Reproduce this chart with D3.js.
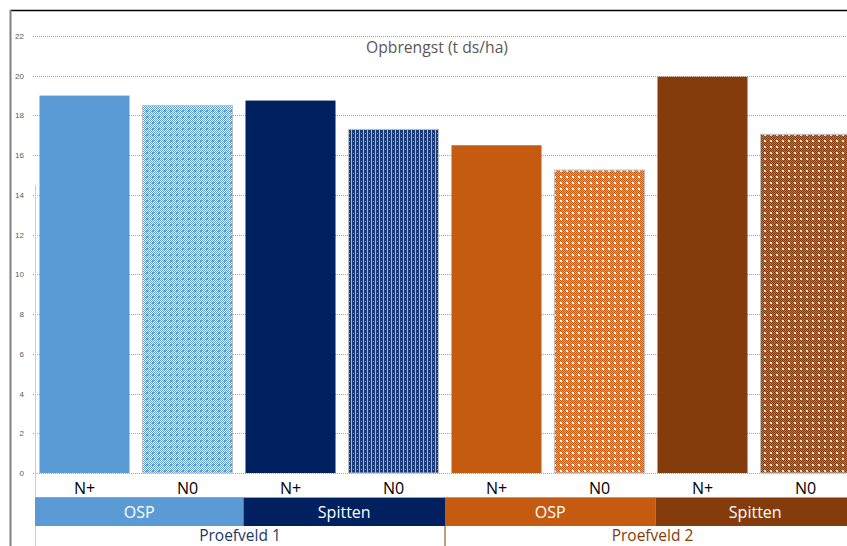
<!DOCTYPE html>
<html>
<head>
<meta charset="utf-8">
<script src="https://cdn.jsdelivr.net/npm/d3@7"></script>
<style>
  body { margin: 0; background: #fff; overflow: hidden; }
  svg { display: block; }
</style>
</head>
<body>
<div id="chart"></div>
<script>
// chart data
const barIds = ["p1-osp-n+", "p1-osp-n0", "p1-sp-n+", "p1-sp-n0", "p2-osp-n+", "p2-osp-n0", "p2-sp-n+", "p2-sp-n0"];
const nLabels = ["N+", "N0", "N+", "N0", "N+", "N0", "N+", "N0"];
const treatments = ["OSP", "OSP", "Spitten", "Spitten", "OSP", "OSP", "Spitten", "Spitten"];
const fields = ["Proefveld 1", "Proefveld 1", "Proefveld 1", "Proefveld 1", "Proefveld 2", "Proefveld 2", "Proefveld 2", "Proefveld 2"];
const yields = [19.0, 18.5, 18.75, 17.3, 16.5, 15.25, 19.95, 17.05];
const yTicks = [0, 2, 4, 6, 8, 10, 12, 14, 16, 18, 20, 22];
const chartTitle = "Opbrengst (t ds/ha)";

const W = 847, H = 546;
const solid = ["#5B9BD5", "#002060", "#C55A11", "#843C0C"];
const fieldColor = { "Proefveld 1": "#1F3864", "Proefveld 2": "#843C0C" };

const svg = d3.select("#chart").append("svg")
  .attr("width", W).attr("height", H);

// patterns for the N0 bars
const defs = svg.append("defs");
function checkPattern(id, light, dark, dot) {
  const p = defs.append("pattern").attr("id", id)
    .attr("patternUnits", "userSpaceOnUse").attr("width", 6).attr("height", 6);
  p.append("rect").attr("width", 6).attr("height", 6).attr("fill", light);
  for (let i = 0; i < 6; i++) {
    for (let j = 0; j < 6; j++) {
      if ((i + j) % 2 === 0) p.append("rect").attr("x", i).attr("y", j).attr("width", 1).attr("height", 1).attr("fill", dark);
    }
  }
  p.append("rect").attr("x", 2).attr("y", 2).attr("width", 2).attr("height", 2).attr("fill", dot);
}
checkPattern("pat-blue", "#FFFFFF", "#5B9BD5", "#5B9BD5");
checkPattern("pat-orange", "#E8A070", "#C55A11", "#FFFFFF");
checkPattern("pat-brown", "#B07850", "#843C0C", "#F0E0D0");
// navy: vertical stripes
const pn = defs.append("pattern").attr("id", "pat-navy")
  .attr("patternUnits", "userSpaceOnUse").attr("width", 4).attr("height", 4);
pn.append("rect").attr("width", 4).attr("height", 4).attr("fill", "#1A3A7A");
pn.append("rect").attr("x", 3).attr("width", 1).attr("height", 4).attr("fill", "#A8B8D8");
pn.append("rect").attr("x", 1).attr("y", 1).attr("width", 1).attr("height", 1).attr("fill", "#8098C8");

const patFill = ["url(#pat-blue)", "url(#pat-navy)", "url(#pat-orange)", "url(#pat-brown)"];

const x = d3.scaleBand()
  .domain(barIds)
  .range([33, 857])
  .paddingInner(0.126)
  .paddingOuter(0.063);

const y = d3.scaleLinear()
  .domain([0, 22])
  .range([473, 36]);

const gap = x.step() - x.bandwidth();

// frame lines
svg.append("line").attr("x1", 10).attr("x2", W).attr("y1", 10.5).attr("y2", 10.5)
  .attr("stroke", "#000").attr("stroke-width", 1.5);
svg.append("line").attr("x1", 10.5).attr("x2", 10.5).attr("y1", 10).attr("y2", H)
  .attr("stroke", "#808080").attr("stroke-width", 2);

// gridlines
svg.append("g").selectAll("line")
  .data(yTicks)
  .join("line")
  .attr("x1", 33).attr("x2", W)
  .attr("y1", d => Math.round(y(d)) + 0.5).attr("y2", d => Math.round(y(d)) + 0.5)
  .attr("stroke", "#A6A6A6")
  .attr("stroke-dasharray", "1,1");

// y tick labels
svg.append("g").selectAll("text")
  .data(yTicks)
  .join("text")
  .attr("x", 24).attr("y", d => y(d) + 3)
  .attr("text-anchor", "end")
  .attr("font-family", "Liberation Sans, Arial, sans-serif")
  .attr("font-size", 8)
  .attr("fill", "#595959")
  .text(d => d);

// bars
const bars = barIds.map((id, i) => ({ id, value: yields[i], i }));
svg.append("g").selectAll("rect")
  .data(bars)
  .join("rect")
  .attr("x", d => x(d.id))
  .attr("y", d => y(d.value))
  .attr("width", x.bandwidth())
  .attr("height", d => y(0) - y(d.value))
  .attr("fill", d => d.i % 2 === 0 ? solid[Math.floor(d.i / 2)] : patFill[Math.floor(d.i / 2)])
  .attr("stroke", d => d.i % 2 === 0 ? "none" : "#BFBFBF")
  .attr("stroke-width", 1);

// title
svg.append("text")
  .attr("x", 437).attr("y", 53)
  .attr("text-anchor", "middle")
  .attr("font-family", "Open Sans, sans-serif")
  .attr("font-size", 15.7)
  .attr("fill", "#595959")
  .text(chartTitle);

// category table under the chart
const font = "Open Sans, sans-serif";
svg.append("line").attr("x1", 35.5).attr("x2", 35.5).attr("y1", 185).attr("y2", H)
  .attr("stroke", "#C8CED6").attr("stroke-width", 1);
svg.append("line").attr("x1", 35).attr("x2", W).attr("y1", 497.5).attr("y2", 497.5)
  .attr("stroke", "#A0A0A0");

svg.append("g").selectAll("text")
  .data(barIds)
  .join("text")
  .attr("x", d => x(d) + x.bandwidth() / 2)
  .attr("y", 494)
  .attr("text-anchor", "middle")
  .attr("font-family", font)
  .attr("font-size", 16)
  .attr("fill", "#000")
  .text((d, i) => nLabels[i]);

// group spans (the field boundary sits mid-gap, the others just left of the bar)
function edge(i) {
  if (i === 0) return 35;
  if (i >= barIds.length) return W;
  return i === 4 ? x(barIds[i]) - gap / 2 : x(barIds[i]) - 2;
}
function spans(keys) {
  const out = [];
  keys.forEach((k, i) => {
    const key = k + "|" + Math.floor(i / 2);
    const last = out[out.length - 1];
    if (last && last.key === key) last.end = i;
    else out.push({ key, label: k, start: i, end: i });
  });
  return out.map(s => ({ label: s.label, idx: s.start, x0: edge(s.start), x1: edge(s.end + 1) }));
}

const treatSpans = spans(treatments);
svg.append("g").selectAll("rect")
  .data(treatSpans)
  .join("rect")
  .attr("x", d => d.x0).attr("y", 498)
  .attr("width", d => d.x1 - d.x0).attr("height", 28)
  .attr("fill", (d, i) => solid[i]);
svg.append("g").selectAll("text")
  .data(treatSpans)
  .join("text")
  .attr("x", d => (d.x0 + d.x1) / 2 + (d.idx >= 6 ? 4 : 0))
  .attr("y", 518)
  .attr("text-anchor", "middle")
  .attr("font-family", font)
  .attr("font-size", 16)
  .attr("fill", "#fff")
  .text(d => d.label);

const fieldSpans = [0, 4].map(s => ({
  label: fields[s],
  x0: edge(s),
  x1: s === 0 ? edge(4) : 860
}));
svg.append("line")
  .attr("x1", fieldSpans[1].x0).attr("x2", fieldSpans[1].x0)
  .attr("y1", 526).attr("y2", H)
  .attr("stroke", "#843C0C");
svg.append("g").selectAll("text")
  .data(fieldSpans)
  .join("text")
  .attr("x", d => (d.x0 + d.x1) / 2)
  .attr("y", 541)
  .attr("text-anchor", "middle")
  .attr("font-family", font)
  .attr("font-size", 15.5)
  .attr("fill", d => fieldColor[d.label])
  .text(d => d.label);
</script>
</body>
</html>
